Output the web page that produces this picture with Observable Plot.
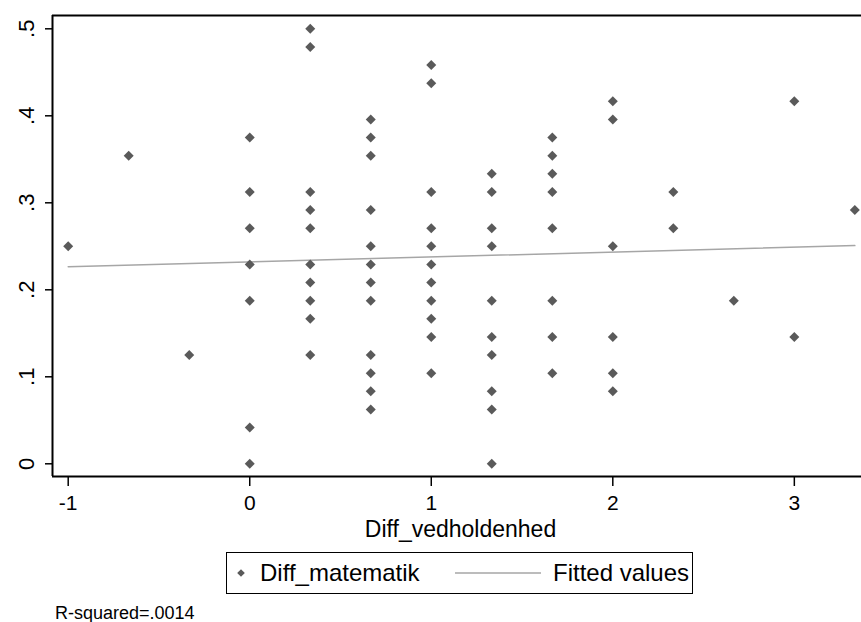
<!DOCTYPE html>
<html>
<head>
<meta charset="utf-8">
<script src="https://cdn.jsdelivr.net/npm/d3@7"></script>
<script src="https://cdn.jsdelivr.net/npm/@observablehq/plot@0.6"></script>
<style>
  html, body { margin: 0; padding: 0; background: #fff; }
  #wrap { position: relative; width: 861px; height: 622px; font-family: "Liberation Sans", Arial, sans-serif; color: #000; overflow: hidden; }
  #legend { position: absolute; left: 226px; top: 552px; width: 467px; height: 42px; box-sizing: border-box; border: 1.5px solid #000; font-size: 24px; }
  #legend .item { position: absolute; top: 50%; transform: translateY(-50%); line-height: 1; white-space: nowrap; }
  #caption { position: absolute; left: 55px; top: 604px; font-size: 18px; line-height: 18px; white-space: nowrap; }
</style>
</head>
<body>
<div id="wrap">
  <div id="chart"></div>
  <div id="legend"></div>
  <div id="caption"></div>
</div>
<script>
// ---- data ----
const xLabel = "Diff_vedholdenhed";
const seriesPoints = "Diff_matematik";
const seriesFit = "Fitted values";
const captionText = "R-squared=.0014";

// distinct values of Diff_vedholdenhed
const vedholdenhedLevels = [-1, -0.6667, -0.3333, 0, 0.3333, 0.6667, 1, 1.3333, 1.6667, 2, 2.3333, 2.6667, 3, 3.3333];
// Diff_matematik values observed at each level (same order as above)
const matematikAtLevel = [
  [0.25],
  [0.3542],
  [0.125],
  [0.375, 0.3125, 0.2708, 0.2292, 0.1875, 0.0417, 0],
  [0.5, 0.4792, 0.3125, 0.2917, 0.2708, 0.2292, 0.2083, 0.1875, 0.1667, 0.125],
  [0.3958, 0.375, 0.3542, 0.2917, 0.25, 0.2292, 0.2083, 0.1875, 0.125, 0.1042, 0.0833, 0.0625],
  [0.4583, 0.4375, 0.3125, 0.2708, 0.25, 0.2292, 0.2083, 0.1875, 0.1667, 0.1458, 0.1042],
  [0.3333, 0.3125, 0.2708, 0.25, 0.1875, 0.1458, 0.125, 0.0833, 0.0625, 0],
  [0.375, 0.3542, 0.3333, 0.3125, 0.2708, 0.1875, 0.1458, 0.1042],
  [0.4167, 0.3958, 0.25, 0.1458, 0.1042, 0.0833],
  [0.3125, 0.2708],
  [0.1875],
  [0.4167, 0.1458],
  [0.2917]
];
// fitted values (line endpoints)
const fitX = [-1, 3.3333];
const fitY = [0.2266, 0.2508];

const xTicks = [-1, 0, 1, 2, 3];
const yTicks = [0, 0.1, 0.2, 0.3, 0.4, 0.5];
const yTickLabels = ["0", ".1", ".2", ".3", ".4", ".5"];

// ---- build tables ----
const points = vedholdenhedLevels.flatMap((x, i) => matematikAtLevel[i].map(y => ({x, y})));
const fit = fitX.map((x, i) => ({x, y: fitY[i]}));

const xDomain = [-1.0865, 3.37];
const yDomain = [-0.0146, 0.5153];
const H = 545;

const chart = Plot.plot({
  width: 861,
  height: H,
  marginTop: 15,
  marginLeft: 52,
  marginRight: 0,
  marginBottom: H - 476,
  style: {fontFamily: '"Liberation Sans", Arial, sans-serif', color: "#000", background: "#fff", overflow: "visible"},
  x: {domain: xDomain},
  y: {domain: yDomain},
  marks: [
    Plot.axisX({ticks: xTicks, tickSize: 10, tickPadding: 9, fontSize: 21, label: null, strokeWidth: 1.5, tickFormat: d => String(d)}),
    Plot.axisY({ticks: yTicks, tickSize: 7, label: null, strokeWidth: 1.5, tickFormat: () => ""}),
    Plot.text(yTicks, {frameAnchor: "left", y: d => d, text: (d, i) => yTickLabels[i], rotate: -90, dx: -26, fontSize: 22, textAnchor: "middle", lineAnchor: "middle"}),
    Plot.text([xLabel], {frameAnchor: "bottom", text: d => d, dx: 3.5, dy: 53, fontSize: 23, lineAnchor: "middle"}),
    Plot.line(fit, {x: "x", y: "y", stroke: "#a6a6a6", strokeWidth: 1.5}),
    Plot.dot(points, {x: "x", y: "y", symbol: "diamond2", r: 4.5, fill: "#5a5a5a", stroke: "none"}),
    Plot.ruleY([yDomain[1]], {stroke: "#000", strokeWidth: 2}),
    Plot.ruleY([yDomain[0]], {stroke: "#000", strokeWidth: 2}),
    Plot.ruleX([xDomain[0]], {stroke: "#000", strokeWidth: 2})
  ]
});
document.getElementById("chart").appendChild(chart);

// ---- legend ----
const legend = document.getElementById("legend");
legend.innerHTML =
  `<svg class="item" style="left:8px" width="12" height="12" viewBox="-6 -6 12 12"><path d="M0,-3.8L3.8,0L0,3.8L-3.8,0Z" fill="#5a5a5a"/></svg>` +
  `<span class="item" style="left:33px">${seriesPoints}</span>` +
  `<svg class="item" style="left:228px" width="86" height="4"><line x1="0" y1="2" x2="86" y2="2" stroke="#a6a6a6" stroke-width="1.5"/></svg>` +
  `<span class="item" style="left:326px">${seriesFit}</span>`;

document.getElementById("caption").textContent = captionText;
</script>
</body>
</html>
